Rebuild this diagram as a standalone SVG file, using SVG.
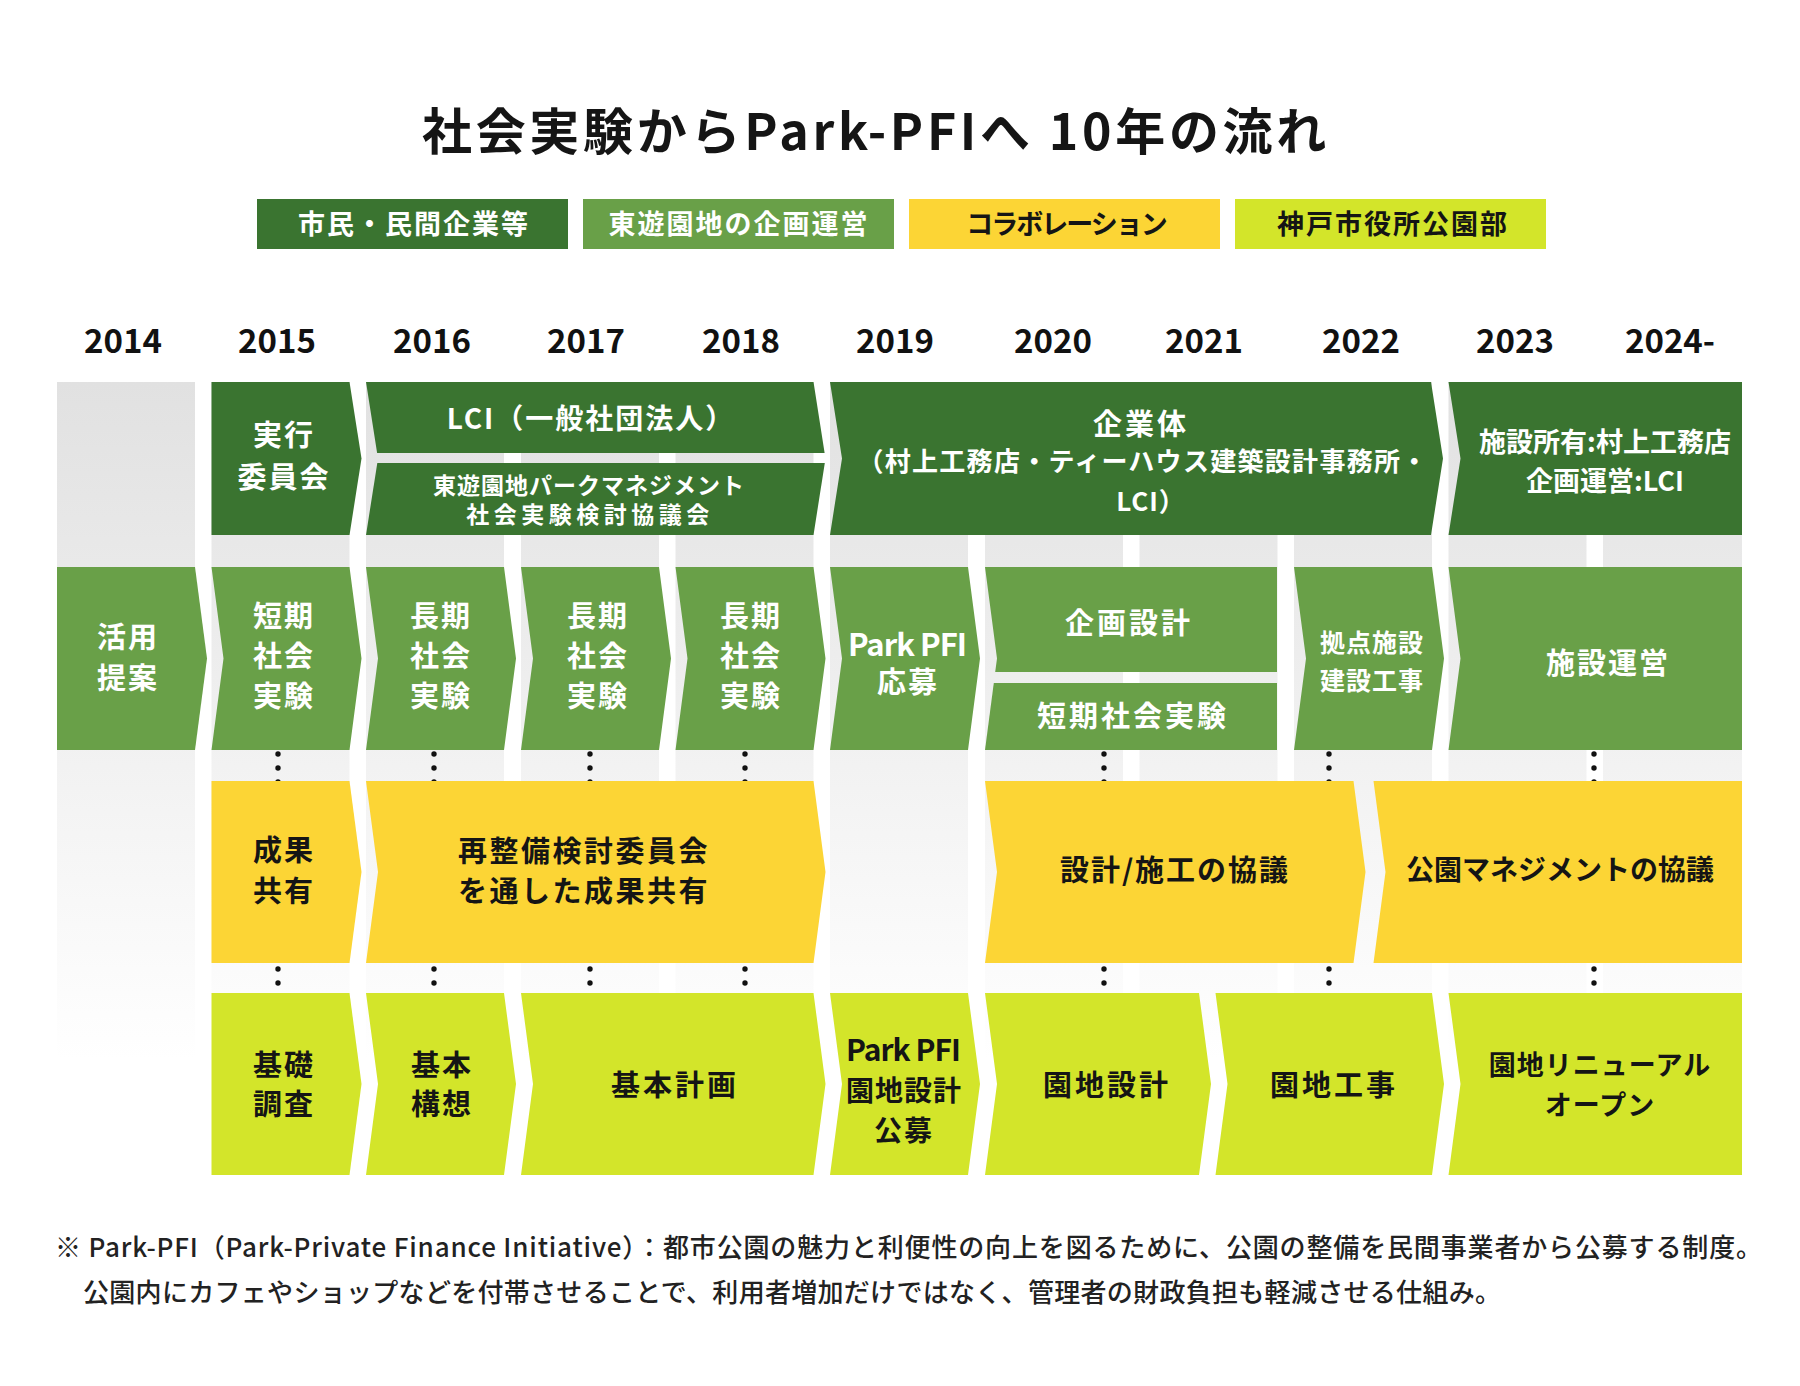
<svg xmlns="http://www.w3.org/2000/svg" width="1800" height="1386" viewBox="0 0 1800 1386">
<defs>
<linearGradient id="colGrad" gradientUnits="userSpaceOnUse" x1="0" y1="382" x2="0" y2="1060">
<stop offset="0" stop-color="#e1e1e1"/>
<stop offset="1" stop-color="#ffffff"/>
</linearGradient>
<style>
text{font-family:"Noto Sans CJK JP","Noto Sans",sans-serif;font-weight:700;text-anchor:middle}
.w{fill:#ffffff}
.k{fill:#151515}
.dg{fill:#3a7430}
.mg{fill:#69a048}
.yl{fill:#fcd535}
.lm{fill:#d3e52a}
.col{fill:url(#colGrad)}
.dot{fill:#111111}
.f29{font-size:29px;letter-spacing:2px}
.f29s{font-size:29px;letter-spacing:3px}
.yr{font-size:33px;fill:#111111}
.lg{font-size:27px;letter-spacing:2px}
.fn{font-size:26px;font-weight:500;fill:#222222;text-anchor:start}
</style>
</defs>
<rect x="0" y="0" width="1800" height="1386" fill="#ffffff"/>

<g id="title">
<text x="876" y="150" class="k" style="font-size:50px;letter-spacing:3.7px">社会実験からPark-PFIへ 10年の流れ</text>
</g>

<g id="legend">
<g id="legend-citizens"><rect x="257" y="199" width="311" height="50" class="dg"/><text x="414" y="234" class="w lg">市民・民間企業等</text></g>
<g id="legend-operation"><rect x="583" y="199" width="311" height="50" class="mg"/><text x="739" y="234" class="w lg">東遊園地の企画運営</text></g>
<g id="legend-collab"><rect x="909" y="199" width="311" height="50" class="yl"/><text x="1066" y="234" class="k" style="font-size:27px;letter-spacing:-2px">コラボレーション</text></g>
<g id="legend-city"><rect x="1235" y="199" width="311" height="50" class="lm"/><text x="1393" y="234" class="k lg">神戸市役所公園部</text></g>
</g>

<g id="years">
<text x="123" y="353" class="yr">2014</text>
<text x="277" y="353" class="yr">2015</text>
<text x="432" y="353" class="yr">2016</text>
<text x="586" y="353" class="yr">2017</text>
<text x="741" y="353" class="yr">2018</text>
<text x="895" y="353" class="yr">2019</text>
<text x="1053" y="353" class="yr">2020</text>
<text x="1204" y="353" class="yr">2021</text>
<text x="1361" y="353" class="yr">2022</text>
<text x="1515" y="353" class="yr">2023</text>
<text x="1670" y="353" class="yr">2024-</text>
</g>

<g id="columns">
<rect x="57" y="382" width="138" height="793" class="col"/>
<rect x="211.5" y="382" width="138" height="793" class="col"/>
<rect x="366" y="382" width="138" height="793" class="col"/>
<rect x="521" y="382" width="138" height="793" class="col"/>
<rect x="675.5" y="382" width="138" height="793" class="col"/>
<rect x="830" y="382" width="138" height="793" class="col"/>
<rect x="985" y="382" width="138" height="793" class="col"/>
<rect x="1139.5" y="382" width="138" height="793" class="col"/>
<rect x="1294" y="382" width="138" height="793" class="col"/>
<rect x="1448.5" y="382" width="138" height="793" class="col"/>
<rect x="1603" y="382" width="139" height="793" class="col"/>
</g>

<g id="connectors">
<circle cx="278" cy="754" r="2.7" class="dot"/><circle cx="278" cy="768" r="2.7" class="dot"/><circle cx="278" cy="782" r="2.7" class="dot"/>
<circle cx="434" cy="754" r="2.7" class="dot"/><circle cx="434" cy="768" r="2.7" class="dot"/><circle cx="434" cy="782" r="2.7" class="dot"/>
<circle cx="590" cy="754" r="2.7" class="dot"/><circle cx="590" cy="768" r="2.7" class="dot"/><circle cx="590" cy="782" r="2.7" class="dot"/>
<circle cx="745" cy="754" r="2.7" class="dot"/><circle cx="745" cy="768" r="2.7" class="dot"/><circle cx="745" cy="782" r="2.7" class="dot"/>
<circle cx="1104" cy="754" r="2.7" class="dot"/><circle cx="1104" cy="768" r="2.7" class="dot"/><circle cx="1104" cy="782" r="2.7" class="dot"/>
<circle cx="1329" cy="754" r="2.7" class="dot"/><circle cx="1329" cy="768" r="2.7" class="dot"/><circle cx="1329" cy="782" r="2.7" class="dot"/>
<circle cx="1594" cy="754" r="2.7" class="dot"/><circle cx="1594" cy="768" r="2.7" class="dot"/><circle cx="1594" cy="782" r="2.7" class="dot"/>
<circle cx="278" cy="969" r="2.7" class="dot"/><circle cx="278" cy="983" r="2.7" class="dot"/>
<circle cx="434" cy="969" r="2.7" class="dot"/><circle cx="434" cy="983" r="2.7" class="dot"/>
<circle cx="590" cy="969" r="2.7" class="dot"/><circle cx="590" cy="983" r="2.7" class="dot"/>
<circle cx="745" cy="969" r="2.7" class="dot"/><circle cx="745" cy="983" r="2.7" class="dot"/>
<circle cx="1104" cy="969" r="2.7" class="dot"/><circle cx="1104" cy="983" r="2.7" class="dot"/>
<circle cx="1329" cy="969" r="2.7" class="dot"/><circle cx="1329" cy="983" r="2.7" class="dot"/>
<circle cx="1594" cy="969" r="2.7" class="dot"/><circle cx="1594" cy="983" r="2.7" class="dot"/>
</g>

<!-- Row 1 -->
<g id="n-jikko">
<polygon class="dg" points="211.5,382 349.5,382 361.5,458.5 349.5,535 211.5,535"/>
<text x="284" y="445.5" class="w f29">実行</text>
<text x="284" y="487.5" class="w f29">委員会</text>
</g>
<g id="n-lci">
<polygon class="dg" points="366,382 813.5,382 824.6,453 377.1,453"/>
<text x="591" y="429" class="w" style="font-size:28px;letter-spacing:2px">LCI（一般社団法人）</text>
</g>
<g id="n-kyogikai">
<polygon class="dg" points="377.3,463 824.8,463 813.5,535 366,535"/>
<text x="589" y="494" class="w" style="font-size:23px;letter-spacing:1px">東遊園地パークマネジメント</text>
<text x="590" y="523" class="w" style="font-size:23px;letter-spacing:4.5px">社会実験検討協議会</text>
</g>
<g id="n-kigyotai">
<polygon class="dg" points="830,382 1431,382 1443,458.5 1431,535 830,535 842,458.5"/>
<text x="1141" y="435" class="w f29s">企業体</text>
<text x="1143" y="470.5" class="w" style="font-size:26px;letter-spacing:1.3px">（村上工務店・ティーハウス建築設計事務所・</text>
<text x="1151" y="510.5" class="w" style="font-size:26px;letter-spacing:1px">LCI）</text>
</g>
<g id="n-shoyu">
<polygon class="dg" points="1448.5,382 1742,382 1742,535 1448.5,535 1460.5,458.5"/>
<text x="1605" y="452" class="w" style="font-size:27px">施設所有:村上工務店</text>
<text x="1605" y="491" class="w" style="font-size:27px">企画運営:LCI</text>
</g>

<!-- Row 2 -->
<g id="n-katsuyo">
<polygon class="mg" points="57,567 195,567 207,658.5 195,750 57,750"/>
<text x="128" y="648" class="w f29">活用</text>
<text x="128" y="689" class="w f29">提案</text>
</g>
<g id="n-tanki2015">
<polygon class="mg" points="211.5,567 349.5,567 361.5,658.5 349.5,750 211.5,750 223.5,658.5"/>
<text x="284" y="626.5" class="w f29">短期</text>
<text x="284" y="666.5" class="w f29">社会</text>
<text x="284" y="706.5" class="w f29">実験</text>
</g>
<g id="n-choki2016">
<polygon class="mg" points="366,567 504,567 516,658.5 504,750 366,750 378,658.5"/>
<text x="441" y="626.5" class="w f29">長期</text>
<text x="441" y="666.5" class="w f29">社会</text>
<text x="441" y="706.5" class="w f29">実験</text>
</g>
<g id="n-choki2017">
<polygon class="mg" points="521,567 659,567 671,658.5 659,750 521,750 533,658.5"/>
<text x="598" y="626.5" class="w f29">長期</text>
<text x="598" y="666.5" class="w f29">社会</text>
<text x="598" y="706.5" class="w f29">実験</text>
</g>
<g id="n-choki2018">
<polygon class="mg" points="675.5,567 813.5,567 825.5,658.5 813.5,750 675.5,750 687.5,658.5"/>
<text x="751" y="626.5" class="w f29">長期</text>
<text x="751" y="666.5" class="w f29">社会</text>
<text x="751" y="706.5" class="w f29">実験</text>
</g>
<g id="n-oubo">
<polygon class="mg" points="830,567 968,567 980,658.5 968,750 830,750 842,658.5"/>
<text x="907" y="656" class="w" style="font-size:31px;letter-spacing:-1px">Park PFI</text>
<text x="908" y="693" class="w f29">応募</text>
</g>
<g id="n-kikaku">
<polygon class="mg" points="985,567 1277,567 1277,672 995.2,672 997,658.5"/>
<text x="1129" y="633.5" class="w f29s">企画設計</text>
</g>
<g id="n-tanki2020">
<polygon class="mg" points="993.8,683 1277,683 1277,750 985,750"/>
<text x="1133" y="726.5" class="w f29s">短期社会実験</text>
</g>
<g id="n-kyoten">
<polygon class="mg" points="1294,567 1432,567 1444,658.5 1432,750 1294,750 1306,658.5"/>
<text x="1372" y="652" class="w" style="font-size:25px;letter-spacing:1px">拠点施設</text>
<text x="1372" y="690" class="w" style="font-size:25px;letter-spacing:1px">建設工事</text>
</g>
<g id="n-unei">
<polygon class="mg" points="1448.5,567 1742,567 1742,750 1448.5,750 1460.5,658.5"/>
<text x="1608" y="673.5" class="w f29">施設運営</text>
</g>

<!-- Row 3 -->
<g id="n-seika">
<polygon class="yl" points="211.5,781 349.5,781 361.5,872 349.5,963 211.5,963"/>
<text x="284" y="860.5" class="k f29">成果</text>
<text x="284" y="901.5" class="k f29">共有</text>
</g>
<g id="n-saiseibi">
<polygon class="yl" points="366,781 813.5,781 825.5,872 813.5,963 366,963 378,872"/>
<text x="584" y="861.5" class="k" style="font-size:29px;letter-spacing:2.5px">再整備検討委員会</text>
<text x="584" y="901.5" class="k" style="font-size:29px;letter-spacing:2.5px">を通した成果共有</text>
</g>
<g id="n-sekkei-kyogi">
<polygon class="yl" points="985,781 1353.5,781 1365.5,872 1353.5,963 985,963 997,872"/>
<text x="1175" y="880.5" class="k f29">設計/施工の協議</text>
</g>
<g id="n-mgmt-kyogi">
<polygon class="yl" points="1373.5,781 1742,781 1742,963 1373.5,963 1385.5,872"/>
<text x="1560" y="880" class="k" style="font-size:28px">公園マネジメントの協議</text>
</g>

<!-- Row 4 -->
<g id="n-kiso">
<polygon class="lm" points="211.5,993 349.5,993 361.5,1084 349.5,1175 211.5,1175"/>
<text x="284" y="1075.5" class="k f29">基礎</text>
<text x="284" y="1114.5" class="k f29">調査</text>
</g>
<g id="n-koso">
<polygon class="lm" points="366,993 504,993 516,1084 504,1175 366,1175 378,1084"/>
<text x="442" y="1075.5" class="k f29">基本</text>
<text x="442" y="1114.5" class="k f29">構想</text>
</g>
<g id="n-keikaku">
<polygon class="lm" points="521,993 813.5,993 825.5,1084 813.5,1175 521,1175 533,1084"/>
<text x="675" y="1095.5" class="k f29s">基本計画</text>
</g>
<g id="n-koubo">
<polygon class="lm" points="830,993 968,993 980,1084 968,1175 830,1175 842,1084"/>
<text x="903" y="1061" class="k" style="font-size:30px;letter-spacing:-1px">Park PFI</text>
<text x="904" y="1101" class="k" style="font-size:28px;letter-spacing:1px">園地設計</text>
<text x="904" y="1141" class="k" style="font-size:28px;letter-spacing:2px">公募</text>
</g>
<g id="n-enchi-sekkei">
<polygon class="lm" points="985,993 1199,993 1211,1084 1199,1175 985,1175 997,1084"/>
<text x="1107" y="1095.5" class="k f29s">園地設計</text>
</g>
<g id="n-enchi-koji">
<polygon class="lm" points="1215.5,993 1432,993 1444,1084 1432,1175 1215.5,1175 1227.5,1084"/>
<text x="1334" y="1095.5" class="k f29s">園地工事</text>
</g>
<g id="n-renewal">
<polygon class="lm" points="1448.5,993 1742,993 1742,1175 1448.5,1175 1460.5,1084"/>
<text x="1600" y="1075" class="k" style="font-size:27px;letter-spacing:1px">園地リニューアル</text>
<text x="1600" y="1115" class="k" style="font-size:27px;letter-spacing:1px">オープン</text>
</g>

<g id="footnote">
<text x="55" y="1257" class="fn" textLength="1707" lengthAdjust="spacing">※ Park-PFI（Park-Private Finance Initiative）：都市公園の魅力と利便性の向上を図るために、公園の整備を民間事業者から公募する制度。</text>
<text x="83" y="1302" class="fn" textLength="1418" lengthAdjust="spacing">公園内にカフェやショップなどを付帯させることで、利用者増加だけではなく、管理者の財政負担も軽減させる仕組み。</text>
</g>
</svg>
